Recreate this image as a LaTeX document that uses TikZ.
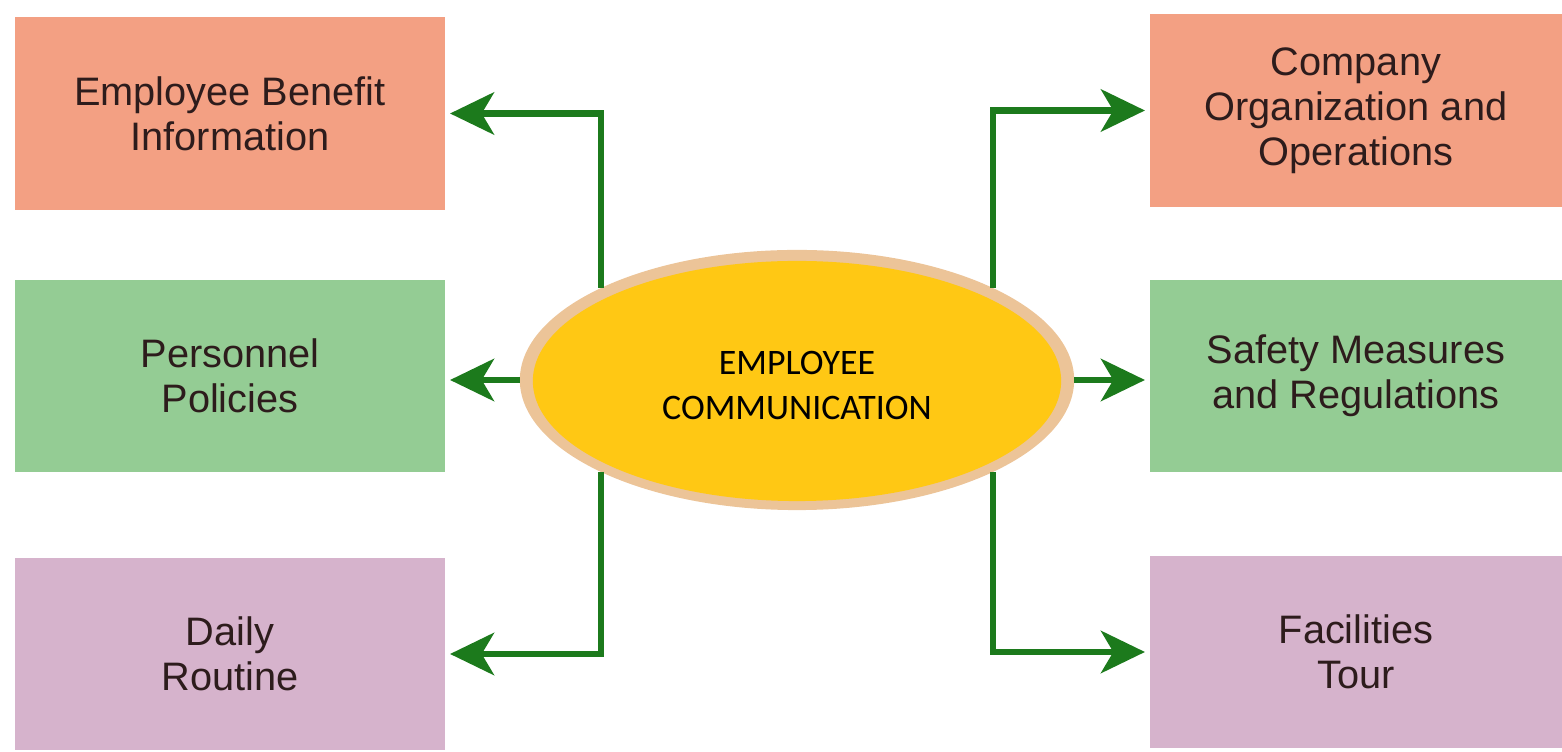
\documentclass[tikz,border=0pt]{standalone}
\usepackage{fontspec}
\setmainfont{Liberation Sans}
\newfontfamily\hubfont{Carlito}
\usetikzlibrary{arrows.meta,shapes.geometric}
\definecolor{salmon}{RGB}{243,160,131}
\definecolor{leaf}{RGB}{148,204,148}
\definecolor{lilac}{RGB}{214,179,204}
\definecolor{linkgreen}{RGB}{28,122,28}
\definecolor{tan}{RGB}{236,196,152}
\definecolor{gold}{RGB}{255,200,20}
\definecolor{ink}{RGB}{45,28,28}
\tikzset{
  topic/.style={rectangle,inner sep=0pt,outer sep=0pt,align=center,text=ink,
    font=\fontsize{11.3}{12.8}\selectfont},
  link/.style={draw=linkgreen,line width=1.9pt,shorten >=1.4pt,
    -{Stealth[length=12.5pt,width=12pt,inset=3.5pt]}}
}
\begin{document}
\begin{tikzpicture}[x=0.01cm,y=-0.01cm]
	\useasboundingbox (0,0) rectangle (1562,752);
	% centre
	\node[ellipse,fill=tan,minimum width=5.54cm,minimum height=2.6cm,inner sep=0pt,outer sep=0pt] (hub) at (797,380) {};
	\fill[gold] (797,381) ellipse (2.64cm and 1.2cm);
	\node[align=center,font=\hubfont\fontsize{10.2}{12.8}\selectfont,yshift=-1.6pt] (hubtext) at (hub) {EMPLOYEE\\COMMUNICATION};
	% left column
	\node[topic,fill=salmon,minimum width=4.3cm,minimum height=1.93cm] (benefit) at (230,113.5) {Employee Benefit\\Information};
	\node[topic,fill=leaf,minimum width=4.3cm,minimum height=1.92cm] (policies) at (230,376) {Personnel\\Policies};
	\node[topic,fill=lilac,minimum width=4.3cm,minimum height=1.92cm] (routine) at (230,654) {Daily\\Routine};
	% right column
	\node[topic,fill=salmon,minimum width=4.12cm,minimum height=1.93cm] (company) at (1356,110.5) {Company\\Organization and\\Operations};
	\node[topic,fill=leaf,minimum width=4.12cm,minimum height=1.92cm] (safety) at (1356,376) {Safety Measures\\and Regulations};
	\node[topic,fill=lilac,minimum width=4.12cm,minimum height=1.92cm] (tour) at (1356,652) {Facilities\\Tour};
	% connectors
	\draw[link] (hub.north west) |- (benefit.east);
	\draw[link] (hub.west) -- (hub.west -| policies.east);
	\draw[link] (hub.south west) |- (routine.east);
	\draw[link] (hub.north east) |- (company.west);
	\draw[link] (hub.east) -- (hub.east -| safety.west);
	\draw[link] (hub.south east) |- (tour.west);
\end{tikzpicture}
\end{document}
